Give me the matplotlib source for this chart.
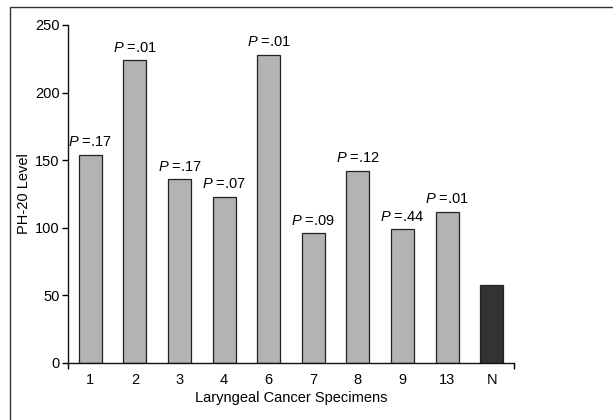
import matplotlib
matplotlib.use("Agg")
import matplotlib.pyplot as plt
from matplotlib.patches import Rectangle
from matplotlib import font_manager

names = {f.name for f in font_manager.fontManager.ttflist}
fam = "Liberation Sans Narrow" if "Liberation Sans Narrow" in names else "Liberation Sans"
plt.rcParams['font.family'] = [fam, 'DejaVu Sans']
plt.rcParams['mathtext.fontset'] = 'custom'
plt.rcParams['mathtext.rm'] = fam
plt.rcParams['mathtext.it'] = fam + ':italic'

categories = ["1", "2", "3", "4", "6", "7", "8", "9", "13", "N"]
values = [154, 224, 136, 123, 228, 96, 142, 99, 112, 58]
pvalues = [".17", ".01", ".17", ".07", ".01", ".09", ".12", ".44", ".01", None]
yticks = [0, 50, 100, 150, 200, 250]

fig = plt.figure(figsize=(6.13, 4.20), dpi=100)
# outer frame
fig.patches.append(Rectangle((10/613, -0.05), 1.2, 1 - 7/420 + 0.05,
                             transform=fig.transFigure, fill=False,
                             edgecolor='#333333', linewidth=1.0))
ax = fig.add_axes([68/613, 1 - 363/420, (514 - 68)/613, (363 - 25)/420])

x = list(range(len(categories)))
colors = ['#b3b3b3'] * (len(categories) - 1) + ['#333333']
ax.bar(x, values, width=0.52, color=colors, edgecolor='#222222', linewidth=0.9)

for xi, v, p in zip(x, values, pvalues):
    if p is None:
        continue
    ax.annotate(r"$P$ =%s" % p, (xi, v), xytext=(0, 4), textcoords='offset points',
                ha='center', va='bottom', fontsize=10.5)

ax.set_xlim(-0.5, len(categories) - 0.5)
ax.set_ylim(0, 250)
ax.set_yticks(yticks)
ax.set_xticks(x)
ax.set_xticklabels(categories)
ax.tick_params(axis='x', length=0, pad=7, labelsize=10.5)
ax.tick_params(axis='y', length=4, width=1, direction='out', labelsize=10.5, pad=2)
ax.set_xticks([-0.5, len(categories) - 0.5], minor=True)
ax.tick_params(axis='x', which='minor', length=4, width=1, direction='out')
for s in ['top', 'right']:
    ax.spines[s].set_visible(False)
for s in ['left', 'bottom']:
    ax.spines[s].set_linewidth(1.0)
    ax.spines[s].set_color('#111111')
ax.set_ylabel("PH-20 Level", fontsize=10.5)
ax.yaxis.set_label_coords((31 - 68) / 446, 0.5)
ax.set_xlabel("Laryngeal Cancer Specimens", fontsize=10.5, labelpad=3)

fig.savefig("out.png", dpi=100)
